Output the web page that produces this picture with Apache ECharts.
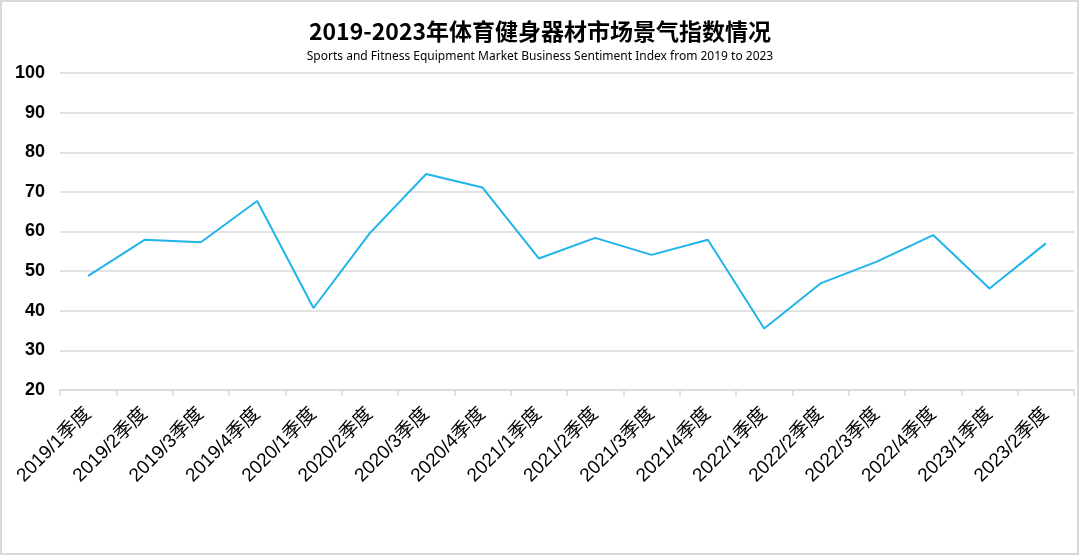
<!DOCTYPE html>
<html>
<head>
<meta charset="utf-8">
<script src="https://cdn.jsdelivr.net/npm/echarts@6/dist/echarts.min.js"></script>
<style>
html,body{margin:0;padding:0;background:#fff;}
#chart{width:1080px;height:556px;}
</style>
</head>
<body>
<div id="chart"></div>
<script>
const titleText = '2019-2023年体育健身器材市场景气指数情况';
const subtitleText = 'Sports and Fitness Equipment Market Business Sentiment Index from 2019 to 2023';
const categories = ['2019/1季度','2019/2季度','2019/3季度','2019/4季度','2020/1季度','2020/2季度','2020/3季度','2020/4季度','2021/1季度','2021/2季度','2021/3季度','2021/4季度','2022/1季度','2022/2季度','2022/3季度','2022/4季度','2023/1季度','2023/2季度'];
const indexValues = [48.8, 57.9, 57.3, 67.7, 40.7, 59.6, 74.5, 71.1, 53.2, 58.4, 54.1, 57.9, 35.5, 46.9, 52.4, 59.1, 45.6, 57.0];
const yTicks = {min: 20, max: 100, interval: 10};

const chart = echarts.init(document.getElementById('chart'), null, {renderer: 'canvas'});
chart.setOption({
  backgroundColor: '#ffffff',
  animation: false,
  title: [{
    text: titleText,
    left: 'center',
    top: 15,
    textStyle: {fontFamily: 'Noto Sans CJK SC', fontSize: 23, fontWeight: 'bold', color: '#000'}
  }, {
    text: subtitleText,
    left: 'center',
    top: 46,
    textStyle: {fontFamily: 'Noto Sans', fontSize: 12, fontWeight: 'normal', color: '#000'}
  }],
  graphic: [{
    type: 'rect',
    shape: {x: 1, y: 1, width: 1077, height: 553},
    style: {fill: 'none', stroke: '#d9d9d9', lineWidth: 2},
    silent: true
  }],
  grid: {left: 60, right: 6, top: 73, bottom: 166, containLabel: false},
  xAxis: {
    type: 'category',
    data: categories,
    boundaryGap: true,
    axisLine: {lineStyle: {color: '#d9d9d9', width: 1.5}},
    axisTick: {show: true, alignWithLabel: false, length: 6, lineStyle: {color: '#d9d9d9', width: 1.5}},
    axisLabel: {
      interval: 0,
      rotate: 45,
      margin: 21,
      color: '#000',
      fontFamily: 'Liberation Sans, Noto Sans CJK SC',
      fontSize: 19
    },
    splitLine: {show: false}
  },
  yAxis: {
    type: 'value',
    min: yTicks.min,
    max: yTicks.max,
    interval: yTicks.interval,
    axisLine: {show: false},
    axisTick: {show: false},
    axisLabel: {
      color: '#000',
      fontFamily: 'Liberation Sans',
      fontWeight: 'bold',
      fontSize: 18,
      margin: 15
    },
    splitLine: {lineStyle: {color: '#d9d9d9', width: 1.5}}
  },
  series: [{
    type: 'line',
    data: indexValues,
    symbol: 'none',
    lineStyle: {color: '#1fb4ea', width: 2},
    itemStyle: {color: '#1fb4ea'}
  }]
});
</script>
</body>
</html>
